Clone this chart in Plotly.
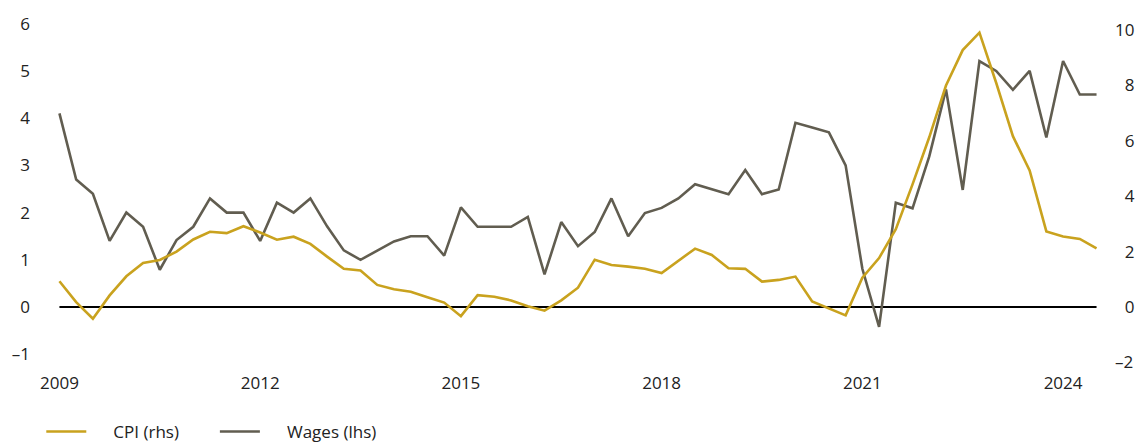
import plotly.graph_objects as go

# Quarterly observations, 2009 Q1 .. 2024 Q3
start_year = 2009
n_quarters = 63
quarters = [start_year + i * 0.25 for i in range(n_quarters)]

wages = [4.10, 2.70, 2.40, 1.40, 2.00, 1.70, 0.79, 1.42, 1.70, 2.30,
         2.00, 2.00, 1.40, 2.21, 2.00, 2.30, 1.71, 1.20, 1.00, 1.19,
         1.39, 1.50, 1.50, 1.09, 2.11, 1.70, 1.70, 1.70, 1.91, 0.69,
         1.80, 1.29, 1.59, 2.30, 1.50, 1.99, 2.10, 2.30, 2.60, 2.49,
         2.39, 2.90, 2.39, 2.49, 3.90, 3.80, 3.70, 3.00, 0.81, -0.42,
         2.21, 2.09, 3.19, 4.61, 2.48, 5.21, 5.00, 4.60, 5.00, 3.59,
         5.21, 4.50, 4.50]

cpi = [0.93, 0.18, -0.42, 0.42, 1.11, 1.59, 1.70, 2.00, 2.44, 2.72,
       2.67, 2.92, 2.69, 2.43, 2.54, 2.28, 1.82, 1.38, 1.32, 0.80,
       0.64, 0.55, 0.35, 0.16, -0.33, 0.43, 0.37, 0.24, 0.03, -0.13,
       0.24, 0.70, 1.71, 1.52, 1.46, 1.38, 1.23, 1.68, 2.11, 1.88,
       1.40, 1.38, 0.92, 0.98, 1.10, 0.20, -0.04, -0.30, 1.06, 1.77,
       2.81, 4.43, 6.13, 8.00, 9.28, 9.91, 8.10, 6.17, 4.93, 2.73,
       2.55, 2.46, 2.12]

x_tickvals = [2009, 2012, 2015, 2018, 2021, 2024]
x_ticktext = ["2009", "2012", "2015", "2018", "2021", "2024"]

left_tickvals = [-1, 0, 1, 2, 3, 4, 5, 6]
left_ticktext = ["–1", "0", "1", "2", "3", "4", "5", "6"]

FS = "\u2007"  # figure space for right alignment
right_tickvals = [-2, 0, 2, 4, 6, 8, 10]
right_ticktext = ["–2", FS + "0", FS + "2", FS + "4", FS + "6", FS + "8", "10"]

CPI_COLOR = "#C9A21E"
WAGE_COLOR = "#615D50"
TEXT_COLOR = "#222222"
FONT = "Open Sans"
PAD = "\u00a0" * 5
TAIL = "\u00a0" * 7

fig = go.Figure()
fig.add_trace(go.Scatter(
    x=quarters, y=cpi, name=PAD + "CPI (rhs)" + TAIL,
    mode="lines", line=dict(color=CPI_COLOR, width=2.6), yaxis="y2"))
fig.add_trace(go.Scatter(
    x=quarters, y=wages, name=PAD + "Wages (lhs)",
    mode="lines", line=dict(color=WAGE_COLOR, width=2.6), yaxis="y"))

fig.add_shape(type="line", xref="x", yref="y",
              x0=quarters[0], x1=quarters[-1], y0=0, y1=0,
              line=dict(color="#000000", width=2), layer="below")

fig.update_layout(
    width=1147, height=444,
    margin=dict(l=40, r=41, t=20, b=79),
    paper_bgcolor="white", plot_bgcolor="white",
    font=dict(family=FONT, size=17, color=TEXT_COLOR),
    showlegend=True,
    legend=dict(orientation="h", xref="container", yref="container",
                x=0.036, y=0.0676, xanchor="left", yanchor="top",
                font=dict(family=FONT, size=17, color=TEXT_COLOR),
                itemwidth=40, traceorder="normal"),
    xaxis=dict(range=[2008.7543, 2024.6265], tickvals=x_tickvals,
               ticktext=x_ticktext, showgrid=False, zeroline=False,
               showline=False, ticks="", ticklabelstandoff=6),
    yaxis=dict(range=[-1.227, 6.036], tickvals=left_tickvals,
               ticktext=left_ticktext, showgrid=False, zeroline=False,
               showline=False, ticks="", ticklabelstandoff=12),
    yaxis2=dict(range=[-2.093, 10.294], tickvals=right_tickvals,
                ticktext=right_ticktext, overlaying="y", side="right",
                showgrid=False, zeroline=False, showline=False, ticks="",
                ticklabelstandoff=9),
)

fig.write_html("out.html", config={"displayModeBar": False},
               post_script="document.body.style.margin='0';")
